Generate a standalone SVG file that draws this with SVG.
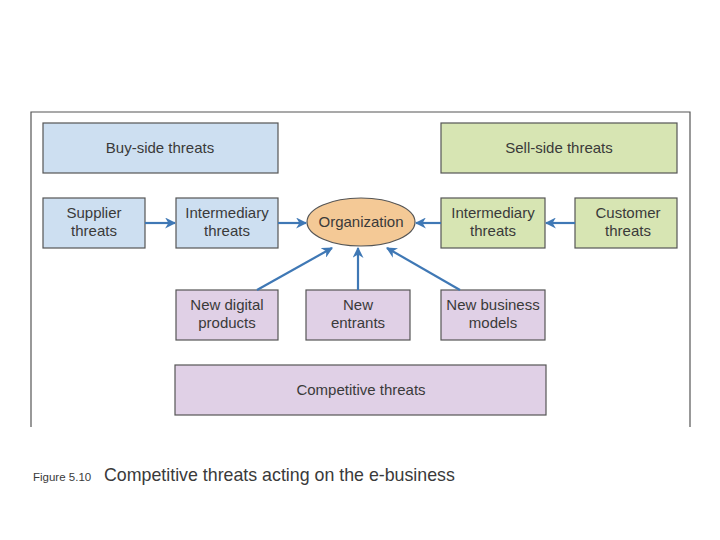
<svg xmlns="http://www.w3.org/2000/svg" width="720" height="540" viewBox="0 0 720 540">
<style>
text{font-family:"Liberation Sans",Arial,sans-serif;fill:#3a3a3a;font-size:15px;text-anchor:middle}
.b{fill:#cddff1;stroke:#555;stroke-width:1.2}
.g{fill:#d7e5b3;stroke:#555;stroke-width:1.2}
.p{fill:#e0d0e6;stroke:#555;stroke-width:1.2}
.c line{stroke:#3f78b5;stroke-width:2.2;marker-end:url(#a)}
</style>
<defs><marker id="a" viewBox="0 0 10 10" refX="9" refY="5" markerWidth="5" markerHeight="5" orient="auto"><path d="M0,0L10,5L0,10L3,5z" fill="#3f78b5"/></marker></defs>
<rect width="720" height="540" fill="#fff"/>
<path d="M31,427V112H690V427" fill="none" stroke="#555" stroke-width="1.2"/>
<g id="buy"><rect class="b" x="43" y="123" width="235" height="50"/><text x="160" y="153">Buy-side threats</text></g>
<g id="sell"><rect class="g" x="441" y="123" width="236" height="50"/><text x="559" y="153">Sell-side threats</text></g>
<g id="supplier"><rect class="b" x="43" y="198" width="102" height="50"/><text x="94" y="218">Supplier</text><text x="94" y="236">threats</text></g>
<g id="interL"><rect class="b" x="176" y="198" width="102" height="50"/><text x="227" y="218">Intermediary</text><text x="227" y="236">threats</text></g>
<g id="org"><ellipse cx="361" cy="222" rx="54" ry="24" fill="#f4c996" stroke="#555" stroke-width="1.2"/><text x="361" y="227">Organization</text></g>
<g id="interR"><rect class="g" x="441" y="198" width="104" height="50"/><text x="493" y="218">Intermediary</text><text x="493" y="236">threats</text></g>
<g id="customer"><rect class="g" x="575" y="198" width="102" height="50"/><text x="628" y="218">Customer</text><text x="628" y="236">threats</text></g>
<g id="digital"><rect class="p" x="176" y="290" width="102" height="50"/><text x="227" y="310">New digital</text><text x="227" y="328">products</text></g>
<g id="entrants"><rect class="p" x="306" y="290" width="104" height="50"/><text x="358" y="310">New</text><text x="358" y="328">entrants</text></g>
<g id="business"><rect class="p" x="441" y="290" width="104" height="50"/><text x="493" y="310">New business</text><text x="493" y="328">models</text></g>
<g id="competitive"><rect class="p" x="175" y="365" width="371" height="50"/><text x="361" y="395">Competitive threats</text></g>
<g class="c" id="connectors">
<line x1="145" y1="223" x2="175" y2="223"/>
<line x1="278" y1="223" x2="306" y2="223"/>
<line x1="441" y1="223" x2="416" y2="223"/>
<line x1="575" y1="223" x2="546" y2="223"/>
<line x1="257" y1="290" x2="332" y2="248"/>
<line x1="358" y1="290" x2="358" y2="248"/>
<line x1="460" y1="290" x2="387" y2="248"/>
</g>
<text x="33" y="481" style="font-size:11.5px;text-anchor:start">Figure 5.10</text>
<text x="104" y="481" style="font-size:17.8px;text-anchor:start">Competitive threats acting on the e-business</text>
</svg>
